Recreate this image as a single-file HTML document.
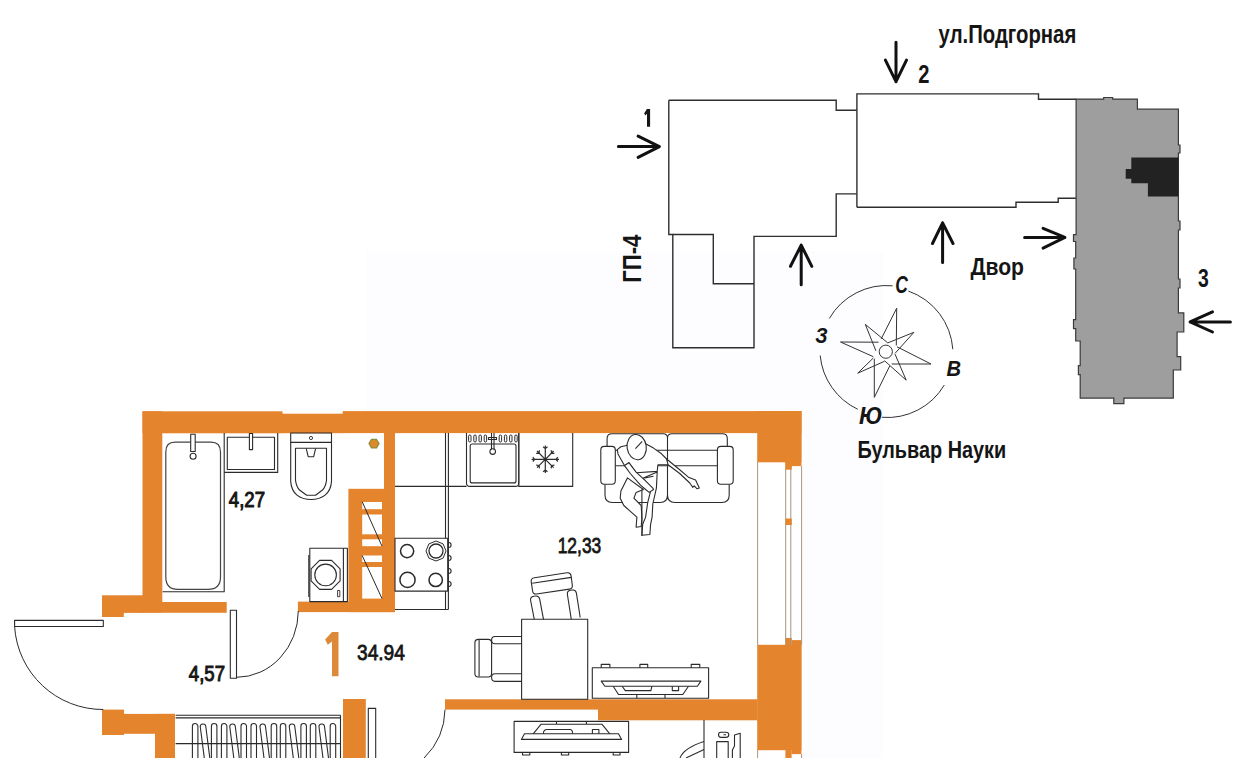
<!DOCTYPE html>
<html><head><meta charset="utf-8">
<style>
html,body{margin:0;padding:0;background:#fff;width:1243px;height:758px;overflow:hidden}
svg{display:block}
text{font-family:"Liberation Sans",sans-serif;font-weight:bold;fill:#151515}
</style></head><body>
<svg width="1243" height="758" viewBox="0 0 1243 758">
<rect x="0" y="0" width="1243" height="758" fill="#fff"/>
<path d="M366,251 H883 V758 H801 V411 H366 Z" fill="#fdfcfe"/>

<!-- ============ SITE PLAN ============ -->
<g id="site" fill="none" stroke="#2e2e2e" stroke-width="1.4">
  <!-- left building + wing -->
  <path d="M668.8,100.2 H836.2 V110.3 H856.8 M856.8,193.9 H836.2 V236.4 H754 V347.8 H672.8 V234.5 H668.8 V100.2"/>
  <path d="M672.8,234.5 H713.3 V283.7 H754"/>
  <!-- middle building -->
  <path d="M856.9,207.3 V93.9 H1038.5 V99.2 H1076.3 M1076.3,198.2 H1058.2 V202.2 H1016 V207.3 H856.9" fill="#fff"/>
</g>
<!-- grey block -->
<path d="M1076.1,99.1 H1103.7 V97.5 H1112.7 V99.1 H1137.4 V109.2 H1178.4 V145 H1180 V153 H1178.4 V221 H1180 V230 H1178.4 V279 H1180 V288 H1178.4 V312.9 H1183.8 V332 H1177.1 V356.6 H1180.7 V370 H1173.3 V398.1 H1123.9 V403.7 H1113.8 V398.1 H1080.2 V374.6 H1078.4 V365.6 H1080.2 V341 H1075.7 V328.6 H1073.5 V319.6 H1075.7 V269 H1073.9 V258 H1075.7 V241.5 H1073.5 V234.7 H1076.1 Z" fill="#9e9e9e" stroke="#3a3a3a" stroke-width="1.2"/>
<path d="M1131.3,157.4 H1178.4 V196.6 H1147.9 V183.2 H1131.3 V178.7 H1125.7 V169 H1131.3 Z" fill="#222"/>

<!-- arrows -->
<g stroke="#111" stroke-width="3.0" fill="none" stroke-linecap="round" stroke-linejoin="round">
  <path d="M618.4,146.6 H659.4 M638.1,136.1 L659.4,146.6 L638.1,157.4"/>
  <path d="M896,42.2 V81.7 M885.4,60.1 L896,81.7 L906.5,60.1"/>
  <path d="M801.2,284.7 V245.1 M790.5,266.3 L801.2,245.1 L811.8,266.3"/>
  <path d="M942.6,262.6 V222.8 M932.5,243.5 L942.6,222.8 L953,243.5"/>
  <path d="M1024.6,237.4 H1064.9 M1043.1,228.4 L1064.9,237.4 L1043.1,248.1"/>
  <path d="M1230.4,321.9 H1190.1 M1212.5,311.8 L1190.1,321.9 L1212.5,332"/>
</g>

<!-- site labels -->
<path d="M647.2,109 H650.1 V126.8 H647 V113.6 L645.6,115.6 L644.1,113.4 L646.9,109 Z" fill="#151515"/>
<text transform="matrix(0.78,0,0,1,918.3,82.7)" font-size="25.8">2</text>
<text transform="matrix(0.75,0,0,1,1198,286.6)" font-size="25.8">3</text>
<text transform="matrix(0.80,0,0,1,938.6,42.9)" font-size="25.4">ул.Подгорная</text>
<text transform="matrix(0.87,0,0,1,970.4,274.8)" font-size="24.3">Двор</text>
<text transform="matrix(0.824,0,0,1,857.4,458)" font-size="24.1">Бульвар Науки</text>
<text transform="translate(641,282.7) rotate(-90) scale(0.88,1)" font-size="25.1">ГП-4</text>

<!-- compass -->
<g fill="none" stroke="#333" stroke-width="1">
  <path d="M908.4,291.1 A66.3,66.3 0 0 1 952.8,349.2 M944.3,385 A66.3,66.3 0 0 1 882,417.3 M857.8,409.3 A66.3,66.3 0 0 1 820.2,355.5 M829.3,318.5 A66.3,66.3 0 0 1 892.6,285.8"/>
  <path d="M881.2,338.9 L896.7,308.2 L896.3,345.5 M897,346.8 L931,364 L891.7,364 M874.3,358.7 L874.3,397.4 L889.7,366 M878.5,342.2 L840.5,342 L873.3,356.7 M887.8,342.9 L913.9,332.3 L895,353.4 M895,354.1 L906.2,380.2 L884.5,360.7 M884.5,361.3 L857.7,373.2 L873.3,358 M887.8,342.9 L865.3,324.4 L875.9,350.8"/>
  <circle cx="885.8" cy="351.7" r="6.6"/>
</g>
<text transform="matrix(0.71,0,0,1,895.3,293.2)" font-size="24.6" font-style="italic">С</text>
<text transform="matrix(0.9,0,0,1,815.2,342.8)" font-size="21.4" font-style="italic">З</text>
<text transform="matrix(0.88,0,0,1,946.4,375.5)" font-size="22.9" font-style="italic">В</text>
<text transform="matrix(0.92,0,0,1,859,424.1)" font-size="24.5" font-style="italic">Ю</text>

<!-- ============ FLOOR PLAN ============ -->
<g id="walls" fill="#e4842c">
  <rect x="142.5" y="411.3" width="140" height="22"/>
  <rect x="282" y="413.7" width="61" height="19.5"/>
  <rect x="342.7" y="411.1" width="458.7" height="22"/>
  <rect x="142.5" y="411.3" width="19.8" height="201.6"/>
  <rect x="102" y="595.3" width="41.7" height="17.6"/>
  <rect x="102" y="612" width="21.8" height="5"/>
  <rect x="162" y="602" width="64.7" height="10.8"/>
  <rect x="384" y="433" width="11" height="179"/>
  <rect x="348.4" y="488.8" width="46.6" height="123.3"/>
  <rect x="297.9" y="601.6" width="97" height="10.5"/>
  <rect x="757.2" y="411.1" width="44.2" height="51.2"/>
  <rect x="785.4" y="411.1" width="16" height="55"/>
  <rect x="757.2" y="644.8" width="44.2" height="105.4"/>
  <rect x="785.4" y="644.8" width="6.2" height="113.2"/>
  <rect x="791.5" y="644.8" width="9.9" height="109.3"/>
  <rect x="785.4" y="638" width="6.4" height="7"/>
  <rect x="791.8" y="640.1" width="9.6" height="5"/>
  <rect x="445" y="699.3" width="312.5" height="10.3"/>
  <rect x="598" y="709" width="159.5" height="11.3"/>
  <rect x="102" y="709.6" width="22" height="25.4"/>
  <rect x="124" y="713.9" width="51" height="19.9"/>
  <rect x="155" y="713.9" width="20" height="44.1"/>
  <rect x="343" y="699" width="22.8" height="59"/>
</g>

<!-- window -->
<g stroke="#a8957f" stroke-width="1" fill="none">
  <path d="M757.6,462 V645 M785.7,466 V645 M790.8,466 V645 M801.6,466 V645 M757.6,750 V758 M801.6,754 V758"/>
</g>
<g fill="#e3862c">
  <rect x="785.4" y="462" width="6.4" height="7.7"/>
  <rect x="785.4" y="518.5" width="6.4" height="6.5"/>
</g>

<!-- shaft openings -->
<g fill="#fff">
  <rect x="362.2" y="502" width="19.8" height="7.2"/>
  <rect x="362.2" y="514.5" width="19.8" height="19.8"/>
  <rect x="362.2" y="539.3" width="19.8" height="6.9"/>
  <rect x="362.2" y="555.5" width="19.8" height="6.5"/>
  <rect x="362.2" y="567" width="19.8" height="31.6"/>
</g>

<g id="furn" fill="none" stroke="#2b2b2b" stroke-width="1.1" stroke-linejoin="round">
  <path d="M362.2,501.7 L382,546.2 M362.2,555.5 L382,598.6" stroke-width="1"/>
  <!-- bath -->
  <path d="M224.2,433 V591.8 H162.6"/>
  <path d="M175,442.2 H211 Q220.5,442.2 220.5,452 V577 Q220.5,589.4 208,589.4 H178 Q165.8,589.4 165.8,577 V452 Q165.8,442.2 175,442.2 Z" stroke="#444" stroke-width="1.2"/>
  <rect x="190.7" y="434.3" width="4.5" height="17.2" fill="#fff"/>
  <circle cx="193.1" cy="456.2" r="3"/>
  <!-- sink -->
  <path d="M224.2,472.4 H277.7 V433"/>
  <rect x="227.3" y="437.3" width="47.2" height="32.2"/>
  <rect x="249.4" y="433.5" width="3.2" height="16.1" fill="#fff"/>
  <!-- toilet -->
  <rect x="290.7" y="433" width="40.8" height="9.4"/>
  <circle cx="311" cy="438" r="1.6" stroke-width="0.9"/>
  <path d="M290.7,442.4 V481.4 C291.5,494 300,499.5 311,499.5 C322,499.5 330.7,494 331.5,481.4 V442.4"/>
  <path d="M295.5,448.3 V480.4 Q296.5,487 299.5,490 L306.7,495.3 H315.6 L322.5,490 Q325.6,487 326.5,480.4 V448.3 Z"/>
  <path d="M306.2,448.3 L308.2,456.7 H313.7 L315.6,448.3"/>
  <!-- washing machine -->
  <rect x="309.8" y="548.2" width="37.6" height="53.4"/>
  <path d="M343.4,548.2 V601.6 M308.8,555 V597"/>
  <polygon points="331.6,560.4 340.1,568.9 340.1,580.9 331.6,589.4 319.6,589.4 311.1,580.9 311.1,568.9 319.6,560.4"/>
  <circle cx="325.6" cy="574.9" r="10.8"/>
  <rect x="337.6" y="590.5" width="2.2" height="6.2" stroke-width="0.9"/>
  <!-- kitchen counter -->
  <path d="M445.5,433 V609.5 M448.4,433 V609.5 M395,486.4 H466.5 M395,609.5 H448.4"/>
  <rect x="395" y="538.3" width="52.7" height="52.8" fill="#fff"/>
  <circle cx="407.1" cy="551.1" r="6.6" stroke-width="1.5"/>
  <polygon points="446,551 443.1,558.1 436,561 428.9,558.1 426,551 428.9,543.9 436,541 443.1,543.9" stroke-width="1"/>
  <circle cx="436" cy="551" r="7" stroke-width="1.3"/>
  <circle cx="407.5" cy="579.9" r="7.6" stroke-width="1.5"/>
  <circle cx="435.7" cy="579.9" r="6.7" stroke-width="1.5"/>
  <path d="M448.6,542.5 a2.5,2.5 0 0 1 0,5 M448.6,555.5 a2.5,2.5 0 0 1 0,5 M448.6,568.5 a2.5,2.5 0 0 1 0,5 M448.6,581.5 a2.5,2.5 0 0 1 0,5"/>
  <!-- kitchen sink -->
  <path d="M466.5,433 V483 Q466.5,486.4 470,486.4 H515.5 Q518.8,486.4 518.8,483 V433"/>
  <rect x="470.2" y="444" width="45.8" height="38.9" rx="2"/>
  <g stroke-width="1">
    <rect x="468.6" y="435" width="2.4" height="7" rx="1.2"/>
    <rect x="473.8" y="435" width="2.4" height="7" rx="1.2"/>
    <rect x="479" y="435" width="2.4" height="7" rx="1.2"/>
    <rect x="484.2" y="435" width="2.4" height="7" rx="1.2"/>
    <rect x="499.2" y="435" width="2.4" height="7" rx="1.2"/>
    <rect x="504.4" y="435" width="2.4" height="7" rx="1.2"/>
    <rect x="509.6" y="435" width="2.4" height="7" rx="1.2"/>
    <rect x="514.8" y="435" width="2.4" height="7" rx="1.2"/>
  </g>
  <path d="M488.5,437.5 H496.5 V439.5 H488.5 Z M491.5,433 V449.5 M494,433 V449.5"/>
  <circle cx="492.7" cy="451.6" r="2.8"/>
  <!-- fridge -->
  <path d="M518.8,433 V486.4 H572.7 V433"/>
  <path d="M545.3,459.3 L559.0,459.3 M556.0,459.3 L557.8,457.1 M556.0,459.3 L557.8,461.5 M545.3,459.3 L553.6,467.6 M551.5,465.5 L554.4,465.2 M551.5,465.5 L551.2,468.4 M545.3,459.3 L545.3,473.0 M545.3,470.0 L547.5,471.8 M545.3,470.0 L543.1,471.8 M545.3,459.3 L537.0,467.6 M539.1,465.5 L539.4,468.4 M539.1,465.5 L536.2,465.2 M545.3,459.3 L531.6,459.3 M534.6,459.3 L532.8,461.5 M534.6,459.3 L532.8,457.1 M545.3,459.3 L537.0,451.0 M539.1,453.1 L536.2,453.4 M539.1,453.1 L539.4,450.2 M545.3,459.3 L545.3,445.6 M545.3,448.6 L543.1,446.8 M545.3,448.6 L547.5,446.8 M545.3,459.3 L553.6,451.0 M551.5,453.1 L551.2,450.2 M551.5,453.1 L554.4,453.4" stroke-width="1.2"/>
  <!-- sofa -->
  <path d="M607.1,466 V438.5 Q607.1,433.7 612,433.7 H663 Q667.5,433.7 667.5,438 V466 M667.5,438 Q667.5,433.7 672,433.7 H722.5 Q727.3,433.7 727.3,438.5 V466 M607.1,450.3 H727.3"/>
  <path d="M605,484.3 V495 Q605,502.5 612.5,502.5 H660 Q667.5,502.5 667.5,495 V466 M667.5,495 Q667.5,502.5 675,502.5 H721.7 Q729.2,502.5 729.2,495 V484.3"/>
  <path d="M607.1,465.8 H727.3"/>
  <rect x="600.8" y="446.4" width="14.5" height="37.9" rx="3.5" fill="#fff"/>
  <rect x="717.4" y="446.4" width="15.8" height="37.9" rx="3.5" fill="#fff"/>
  <!-- person -->
  <g fill="#fff">
  <polygon points="627.4,477.9 620.9,491.0 620.2,498.2 623.8,505.5 631.8,512.7 636.9,517.1 636.1,527.2 641.2,526.5 641.9,518.5 641.2,505.5 633.9,498.2 636.1,492.4 643.4,489.5"/>
  <polygon points="657.2,472.1 656.4,488.1 652.8,504.0 652.1,517.1 650.6,524.3 649.9,534.5 641.9,535.2 642.7,524.3 645.6,517.1 647.7,502.6 650.6,491.0 643.4,477.9"/>
  <polygon points="627.4,445.2 620.9,446.7 617.3,449.6 618.0,453.9 621.6,460.5 624.5,465.6 628.9,462.7 636.1,472.8 657.2,471.4 657.9,464.8 668.1,464.8 668.8,462.7 666.6,459.0 660.8,453.2 653.5,448.1 645.6,443.8"/>
  <polygon points="666.6,459.0 678.2,468.5 688.4,477.2 695.6,480.1 699.3,488.1 697.1,488.8 694.2,485.9 692.7,487.3 689.8,483.0 679.7,473.5 668.1,464.8"/>
  <polygon points="624.5,465.6 630.3,473.5 640.5,485.2 645.6,489.5 649.2,492.4 653.5,489.5 652.8,488.1 644.8,480.1 636.1,472.1 628.9,462.7"/>
  <ellipse cx="636.7" cy="447.1" rx="9.6" ry="12.7" transform="rotate(-8 636.7 447.1)"/>
  </g>
  <path d="M641.9,489.5 V536.0 M635.4,448.6 L642.2,441.3 M644.8,477.9 L653.5,476.2"/>
  <!-- table & chairs -->
  <rect x="521.6" y="619.3" width="66.1" height="80"/>
  <path d="M534.5,577.7 L567,572.8 Q570.6,572.3 571.1,575.8 L572.3,585.2 Q572.8,588.6 569.3,589.1 L536.5,594 Q533,594.5 532.6,591 L531.2,581.6 Q530.8,578.2 534.5,577.7 Z"/>
  <path d="M532.2,583.3 L571.3,577.4"/>
  <path d="M534.3,619.3 L530.6,600.5 Q530,596.8 533.8,596.2 L535.4,596 Q539,595.5 539.7,599.1 L543.5,619.3"/>
  <path d="M571.3,619.3 L567.4,594.5 Q566.8,590.8 570.5,590.2 L572.2,590 Q575.8,589.5 576.4,593.1 L580.2,617.5"/>

  <rect x="474.9" y="639.4" width="16.7" height="37.6" rx="3.5"/>
  <path d="M479.1,640 V676.5"/>
  <path d="M521.6,636.5 H495 Q491.6,636.5 491.6,640 Q491.6,643.8 495,643.8 H521.6 M521.6,673.8 H495 Q491.6,673.8 491.6,677.6 Q491.6,681.4 495,681.4 H521.6"/>
  <!-- TV unit upper -->
  <rect x="592.3" y="667.8" width="116.3" height="30.5"/>
  <path d="M601.2,667.8 V664.4 H609.9 V667.8 M639.9,667.8 V664.4 H647.7 V667.8 M691.2,667.8 V664.4 H699.8 V667.8"/>
  <path d="M601.2,681.1 H700.9 L697.4,686.2 H604.9 Z"/>
  <path d="M613.2,686.2 L618.5,694.5 H682.8 L688.5,686.2 M622.1,686.2 L625.3,690.6 H650.9 L651.9,686.2 M672.3,686.2 V690.6 H678.6 V686.2 M636.8,694.5 V698.3 M665,694.5 V698.3"/>
  <!-- TV unit lower -->
  <rect x="514.1" y="721.4" width="114.5" height="31"/>
  <path d="M522.5,752.4 V755 H529.8 V752.4 M561.4,752.4 V755 H568.7 V752.4 M613.2,752.4 V755 H620 V752.4"/>
  <path d="M524.5,733.8 H618.5 L621.6,739.4 H521.4 Z"/>
  <path d="M533.2,733.8 L541.1,724.2 H601.9 L609.8,733.8 M543.4,733.8 Q543.4,729.5 547,729.5 H570 Q572.6,729.5 572.6,733.8 M592.4,733.8 V729.5 H598.9 V733.8 M556.5,721.4 V724.2 M586.4,721.4 V724.2"/>
  <!-- bottom right fixtures -->
  <path d="M704,720 V758"/>
  <path d="M721,732.3 H726 Q728.8,732.3 728.8,734.8 Q728.8,737.4 726,737.4 H721 Q718.5,737.4 718.5,734.8 Q718.5,732.3 721,732.3 Z M723.5,734.8 H726"/>
  <path d="M716.7,758 V741.6 H728.2 V758"/>
  <path d="M732.4,758 V750 L734.5,746 V735 L740.2,733.2 V758"/>
  <path d="M680,758 Q684,748 704,741.6 M686,758 L704,749.5"/>
  <!-- doors -->
  <rect x="14.6" y="620.4" width="88.7" height="6.1"/>
  <path d="M14.6,626.5 A88.5,88.5 0 0 0 103.3,709.5" stroke-width="1"/>
  <rect x="230.3" y="610.3" width="6.2" height="68"/>
  <path d="M236.5,677.3 A62,66.6 0 0 0 298.3,611" stroke-width="1"/>
  <rect x="368.3" y="708.4" width="7.4" height="52"/>
  <path d="M445,709.6 A69.3,69.3 0 0 1 424.1,758" stroke-width="1"/>
  <!-- wardrobe / hangers -->
  <path d="M175.6,715.3 H340.5 M175.6,717.9 H340.5 M175.6,743.6 H340.5 M340.5,715.3 V758"/>
</g>
<!-- hangers -->
<path d="M192.4,758 V726.3 A2.75,2.75 0 0 1 197.9,726.3 V758 M204.3,758 L200.3,727 A2.75,2.75 0 0 1 205.8,726.5 L209.8,758 M211.4,758 V726.3 A2.75,2.75 0 0 1 216.9,726.3 V758 M221.4,758 V726.3 A2.75,2.75 0 0 1 226.9,726.3 V758 M233.8,758 L229.8,727 A2.75,2.75 0 0 1 235.3,726.5 L239.3,758 M241.0,758 V726.3 A2.75,2.75 0 0 1 246.5,726.3 V758 M251.0,758 V726.3 A2.75,2.75 0 0 1 256.5,726.3 V758 M264.0,758 L260.0,727 A2.75,2.75 0 0 1 265.5,726.5 L269.5,758 M271.2,758 V726.3 A2.75,2.75 0 0 1 276.7,726.3 V758 M280.3,758 V726.3 A2.75,2.75 0 0 1 285.8,726.3 V758 M293.3,758 L289.3,727 A2.75,2.75 0 0 1 294.8,726.5 L298.8,758 M300.9,758 V726.3 A2.75,2.75 0 0 1 306.4,726.3 V758 M310.3,758 V726.3 A2.75,2.75 0 0 1 315.8,726.3 V758 M323.0,758 L319.0,727 A2.75,2.75 0 0 1 324.5,726.5 L328.5,758 M330.2,758 V726.3 A2.75,2.75 0 0 1 335.7,726.3 V758" fill="none" stroke="#2b2b2b" stroke-width="1.1"/>
<!-- hex dot -->
<polygon points="379,443.6 376.5,447.9 371.5,447.9 369,443.6 371.5,439.3 376.5,439.3" fill="#dd8a2c" stroke="#8e8c3e" stroke-width="1.2"/>
<!-- orange big 1 -->
<path d="M332,632 H338.5 V676.3 H332 V641.5 L327.8,644.8 L325.1,639.6 Z" fill="#dc8a3a"/>
<!-- floor texts -->
<text transform="matrix(0.85,0,0,1,228.8,506.9)" font-size="21.9" style="font-weight:normal;stroke:#151515;stroke-width:1.0">4,27</text>
<text transform="matrix(0.845,0,0,1,188.8,680.6)" font-size="22" style="font-weight:normal;stroke:#151515;stroke-width:1.0">4,57</text>
<text transform="matrix(0.77,0,0,1,557.7,552.8)" font-size="22.6" style="font-weight:normal;stroke:#151515;stroke-width:0.8">12,33</text>
<text transform="matrix(0.84,0,0,1,357,659.9)" font-size="22.8" style="font-weight:normal;stroke:#151515;stroke-width:0.8">34.94</text>
</svg>
</body></html>
